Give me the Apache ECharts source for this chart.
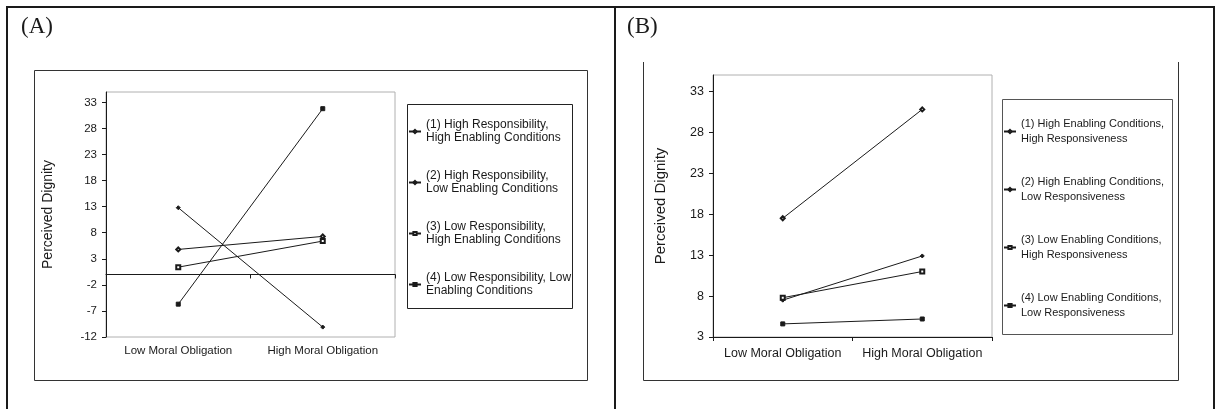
<!DOCTYPE html>
<html>
<head>
<meta charset="utf-8">
<script src="https://cdn.jsdelivr.net/npm/echarts@6/dist/echarts.min.js"></script>
<style>
html,body{margin:0;padding:0;background:#fff;}
#c{width:1216px;height:409px;}
</style>
</head>
<body>
<div id="c"></div>
<script>
// ---- data ----
const categories = ['Low Moral Obligation', 'High Moral Obligation'];

const namesA = [
  '(1) High Responsibility,\nHigh Enabling Conditions',
  '(2) High Responsibility,\nLow Enabling Conditions',
  '(3) Low Responsibility,\nHigh Enabling Conditions',
  '(4) Low Responsibility, Low\nEnabling Conditions'
];
const valuesA1 = [4.8, 7.3];
const valuesA2 = [12.8, -10.1];
const valuesA3 = [1.4, 6.4];
const valuesA4 = [-5.7, 31.8];
const ticksA = [-12, -7, -2, 3, 8, 13, 18, 23, 28, 33];

const namesB = [
  '(1) High Enabling Conditions,\nHigh Responsiveness',
  '(2) High Enabling Conditions,\nLow Responsiveness',
  '(3) Low Enabling Conditions,\nHigh Responsiveness',
  '(4) Low Enabling Conditions,\nLow Responsiveness'
];
const valuesB1 = [17.5, 30.8];
const valuesB2 = [7.5, 12.9];
const valuesB3 = [7.8, 11.0];
const valuesB4 = [4.6, 5.2];
const ticksB = [3, 8, 13, 18, 23, 28, 33];

const symbols = ['emptyDiamond', 'diamond', 'emptyRect', 'rect'];

// ---- chart ----
const FONT = '"Liberation Sans", Arial, sans-serif';
const INK = '#1a1a1a';
const chart = echarts.init(document.getElementById('c'), null, {renderer: 'canvas'});

function mkSeries(names, vals, idx) {
  return vals.map((v, i) => ({
    name: names[i],
    type: 'line',
    xAxisIndex: idx,
    yAxisIndex: idx,
    data: v,
    symbol: symbols[i],
    symbolSize: 4,
    showSymbol: true,
    animation: false,
    lineStyle: {color: INK, width: 1},
    itemStyle: {color: INK, borderColor: INK, borderWidth: 1},
    emphasis: {disabled: true}
  }));
}

function yAxis(idx, min, max, ticks, fs, nameFs, nameGap) {
  return {
    type: 'value', gridIndex: idx, min: min, max: max, interval: 5,
    name: 'Perceived Dignity', nameLocation: 'middle', nameGap: nameGap,
    nameTextStyle: {fontFamily: FONT, fontSize: nameFs, color: INK},
    axisLine: {show: true, lineStyle: {color: INK, width: 1}},
    axisTick: {show: true, length: 4, lineStyle: {color: INK}, customValues: ticks},
    axisLabel: {fontFamily: FONT, fontSize: fs, color: INK, margin: 9, customValues: ticks},
    splitLine: {show: false}
  };
}

function xAxis(idx, fs, margin) {
  return {
    type: 'category', gridIndex: idx, data: categories, boundaryGap: true,
    axisLine: {show: true, onZero: true, lineStyle: {color: INK, width: 1}},
    axisTick: {show: true, length: 4, lineStyle: {color: INK}},
    axisLabel: {fontFamily: FONT, fontSize: fs, color: INK, margin: margin, interval: 0},
    splitLine: {show: false}
  };
}

function legend(names, left, top, lh, gap, fs) {
  return {
    data: names, orient: 'vertical', left: left, top: top, padding: 0,
    itemWidth: 12, itemHeight: 4, itemGap: gap, selectedMode: false,
    textStyle: {fontFamily: FONT, fontSize: fs, lineHeight: lh, color: INK, padding: [lh, 0, 0, 0]}
  };
}

const option = {
  backgroundColor: '#fff',
  animation: false,
  grid: [
    {left: 106, top: 92, width: 289, height: 245, show: true, borderColor: '#b0b0b0', borderWidth: 1, backgroundColor: 'transparent'},
    {left: 713, top: 75, width: 279, height: 262, show: true, borderColor: '#b0b0b0', borderWidth: 1, backgroundColor: 'transparent'}
  ],
  xAxis: [xAxis(0, 11.5, 8), xAxis(1, 12.5, 10)],
  yAxis: [yAxis(0, -12, 35, ticksA, 11.5, 14, 51), yAxis(1, 3, 35, ticksB, 12.5, 15, 45)],
  legend: [legend(namesA, 408, 112, 13, 12, 12), legend(namesB, 1003, 109, 15, 13, 11)],
  series: mkSeries(namesA, [valuesA1, valuesA2, valuesA3, valuesA4], 0)
    .concat(mkSeries(namesB, [valuesB1, valuesB2, valuesB3, valuesB4], 1)),
  graphic: [
    {type: 'polyline', silent: true, shape: {points: [[7, 409], [7, 7], [1214, 7], [1214, 409]]}, style: {stroke: INK, lineWidth: 2, fill: null}},
    {type: 'line', silent: true, shape: {x1: 615, y1: 7, x2: 615, y2: 409}, style: {stroke: INK, lineWidth: 2}},
    {type: 'text', silent: true, x: 21, y: 27, style: {text: '(A)', font: '23px "Liberation Serif", "Times New Roman", serif', fill: INK, verticalAlign: 'middle'}},
    {type: 'text', silent: true, x: 627, y: 27, style: {text: '(B)', font: '23px "Liberation Serif", "Times New Roman", serif', fill: INK, verticalAlign: 'middle'}},
    {type: 'rect', silent: true, shape: {x: 34.5, y: 70.5, width: 553, height: 310}, style: {stroke: '#333', lineWidth: 1, fill: null}},
    {type: 'polyline', silent: true, shape: {points: [[643.5, 62], [643.5, 380.5], [1178.5, 380.5], [1178.5, 62]]}, style: {stroke: '#333', lineWidth: 1, fill: null}},
    {type: 'rect', silent: true, shape: {x: 407.5, y: 104.5, width: 165, height: 204}, style: {stroke: '#222', lineWidth: 1, fill: null}},
    {type: 'rect', silent: true, shape: {x: 1002.5, y: 99.5, width: 170, height: 235}, style: {stroke: '#555', lineWidth: 1, fill: null}}
  ]
};
chart.setOption(option);
</script>
</body>
</html>
